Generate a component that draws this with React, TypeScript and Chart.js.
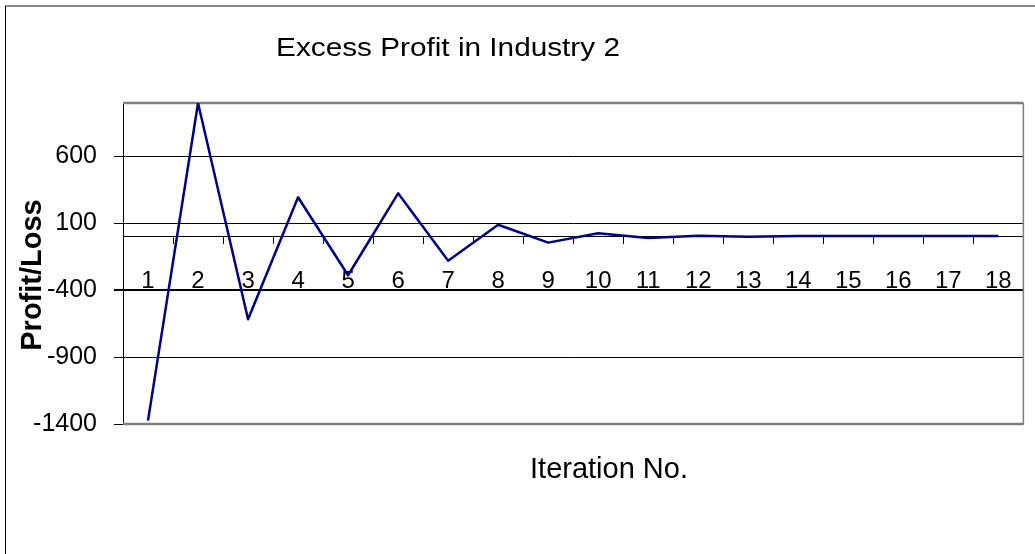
import React, { useEffect, useRef } from "react";
import { Chart, registerables } from "chart.js";

Chart.register(...registerables);

// ---- data ----
const categories = ["1", "2", "3", "4", "5", "6", "7", "8", "9", "10", "11", "12", "13", "14", "15", "16", "17", "18"];
const profitLoss = [-1375, 1000, -617, 295, -288, 325, -179, 90, -44, 26, -9, 8, 0, 6, 6, 6, 6, 6];
const yTickValues = [-1400, -900, -400, 100, 600];
const yMin = -1400;
const yMax = 1000;
const chartTitle = "Excess Profit in Industry 2";
const xAxisTitle = "Iteration No.";
const yAxisTitle = "Profit/Loss";

const FONT = '"Liberation Sans", Arial, Helvetica, sans-serif';

const framePlugin = {
  id: "excelFrame",
  beforeDraw(chart: any) {
    const { ctx, width, height } = chart;
    ctx.save();
    ctx.fillStyle = "#ffffff";
    ctx.fillRect(0, 0, width, height);
    // outer chart border (top gray, left black)
    ctx.strokeStyle = "#8c8c8c";
    ctx.lineWidth = 2;
    ctx.beginPath();
    ctx.moveTo(5, 6);
    ctx.lineTo(width, 6);
    ctx.stroke();
    ctx.strokeStyle = "#000000";
    ctx.lineWidth = 1;
    ctx.beginPath();
    ctx.moveTo(5.5, 6);
    ctx.lineTo(5.5, height);
    ctx.stroke();
    ctx.restore();
  },
  beforeDatasetsDraw(chart: any) {
    const { ctx, chartArea } = chart;
    const { left, right, top, bottom } = chartArea;
    ctx.save();
    ctx.strokeStyle = "#808080";
    ctx.lineWidth = 2.5;
    ctx.beginPath();
    ctx.moveTo(left, top);
    ctx.lineTo(right, top);
    ctx.moveTo(left, bottom);
    ctx.lineTo(right, bottom);
    ctx.stroke();
    ctx.lineWidth = 1.5;
    ctx.beginPath();
    ctx.moveTo(right, top);
    ctx.lineTo(right, bottom);
    ctx.stroke();
    ctx.restore();
  },
  afterDraw(chart: any) {
    const { ctx, chartArea } = chart;
    ctx.save();
    ctx.fillStyle = "#000000";
    // chart title
    ctx.font = `25px ${FONT}`;
    ctx.textAlign = "center";
    ctx.textBaseline = "alphabetic";
    ctx.save();
    ctx.translate(448, 56);
    ctx.scale(1.19, 1);
    ctx.fillText(chartTitle, 0, 0);
    ctx.restore();
    // x axis title
    ctx.font = `29px ${FONT}`;
    ctx.textBaseline = "middle";
    ctx.fillText(xAxisTitle, chartArea.left + 486, chartArea.bottom + 46);
    // y axis title
    ctx.font = `bold 29px ${FONT}`;
    ctx.save();
    ctx.translate(33, chartArea.top + 172);
    ctx.rotate(-Math.PI / 2);
    ctx.fillText(yAxisTitle, 0, 0);
    ctx.restore();
    ctx.restore();
  },
};

export default function App() {
  const canvasRef = useRef<HTMLCanvasElement | null>(null);

  useEffect(() => {
    if (!canvasRef.current) return;
    const chart = new Chart(canvasRef.current, {
      type: "line",
      data: {
        labels: categories,
        datasets: [
          {
            label: "Excess Profit",
            data: profitLoss,
            borderColor: "#000080",
            backgroundColor: "#000080",
            borderWidth: 2.5,
            borderJoinStyle: "round",
            pointRadius: 0,
            tension: 0,
            fill: false,
            xAxisID: "x",
            yAxisID: "y",
          },
        ],
      },
      options: {
        responsive: false,
        animation: false,
        events: [],
        layout: { padding: { top: 103, right: 10, bottom: 130, left: 0 } },
        plugins: {
          legend: { display: false },
          tooltip: { enabled: false },
          title: { display: false },
        },
        scales: {
          y: {
            type: "linear",
            position: "left",
            min: yMin,
            max: yMax,
            afterBuildTicks: (scale: any) => {
              scale.ticks = yTickValues.map((v) => ({ value: v }));
            },
            afterFit: (scale: any) => {
              scale.width = 123;
            },
            grid: {
              color: "#000000",
              lineWidth: (c: any) => (c.tick && c.tick.value === -400 ? 2 : 1),
              drawTicks: true,
              tickLength: 9,
              tickColor: "#000000",
            },
            border: { display: true, color: "#000000", width: 1 },
            ticks: {
              color: "#000000",
              font: { family: FONT, size: 25 },
              padding: 17,
              callback: (v: any) => String(v),
            },
          },
          x: {
            type: "category",
            position: { y: 0 } as any,
            offset: true,
            grid: {
              offset: true,
              drawOnChartArea: false,
              drawTicks: true,
              tickLength: 7,
              tickColor: (c: any) => (c.index === 0 ? "rgba(0,0,0,0)" : "#000000"),
              color: "#000000",
            },
            border: { display: true, color: "#000000", width: 1 },
            ticks: {
              color: "#000000",
              font: { family: FONT, size: 24 },
              padding: 23,
              maxRotation: 0,
              autoSkip: false,
            },
          },
        },
      },
      plugins: [framePlugin],
    } as any);
    return () => chart.destroy();
  }, []);

  return (
    <div style={{ position: "fixed", left: 0, top: 0, width: 1035, height: 554, background: "#fff" }}>
      <canvas ref={canvasRef} width={1035} height={554} style={{ display: "block" }} />
    </div>
  );
}
